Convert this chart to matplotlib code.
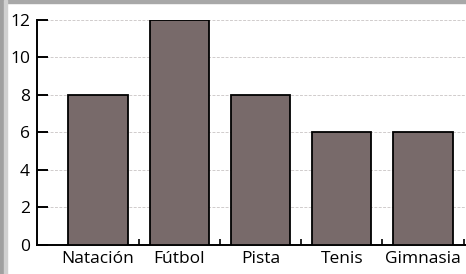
import matplotlib.pyplot as plt
from matplotlib.patches import Rectangle
import numpy as np

# --- DATA ---
deportes = ["Natación", "Fútbol", "Pista", "Tenis", "Gimnasia"]
alumnos = [8, 12, 8, 6, 6]
y_ticks = [0, 2, 4, 6, 8, 10, 12]

plt.rcParams['font.family'] = ['Open Sans', 'DejaVu Sans']

fig = plt.figure(figsize=(4.66, 2.74), dpi=100)
ax = fig.add_axes([0.0794, 0.106, 0.9206, 0.821])

x = np.arange(len(deportes))
ax.bar(x, alumnos, width=0.73, color="#786a6a", edgecolor="black", linewidth=1.3, zorder=3)

ax.set_xlim(-0.75, 4.53)
ax.set_ylim(0, 12)
ax.set_yticks(y_ticks)
ax.set_xticks(x)
ax.set_xticklabels(deportes, fontsize=12.5)
ax.set_xticks(x + 0.5, minor=True)

ax.grid(axis="y", color="#d0cccc", linestyle=(0, (3, 1.5)), linewidth=0.7, zorder=1)

for s in ["top", "right"]:
    ax.spines[s].set_visible(False)
ax.spines["left"].set_linewidth(1.4)
ax.spines["bottom"].set_linewidth(1.4)

ax.tick_params(axis="y", direction="in", length=8, width=1.4, labelsize=12.5, pad=5)
ax.tick_params(axis="x", which="major", length=0, pad=4)
ax.tick_params(axis="x", which="minor", direction="in", length=4, width=1.2)

# scan border (gray shading at top and left)
fig.patches.append(Rectangle((0, 0.988), 1, 0.012, transform=fig.transFigure,
                             color="#a8a8a8", zorder=0))
fig.patches.append(Rectangle((0, 0), 0.008, 1, transform=fig.transFigure,
                             color="#a0a0a0", zorder=0))
fig.patches.append(Rectangle((0.008, 0), 0.006, 1, transform=fig.transFigure,
                             color="#d0d0d0", zorder=0))

fig.savefig("out.png", dpi=100)
